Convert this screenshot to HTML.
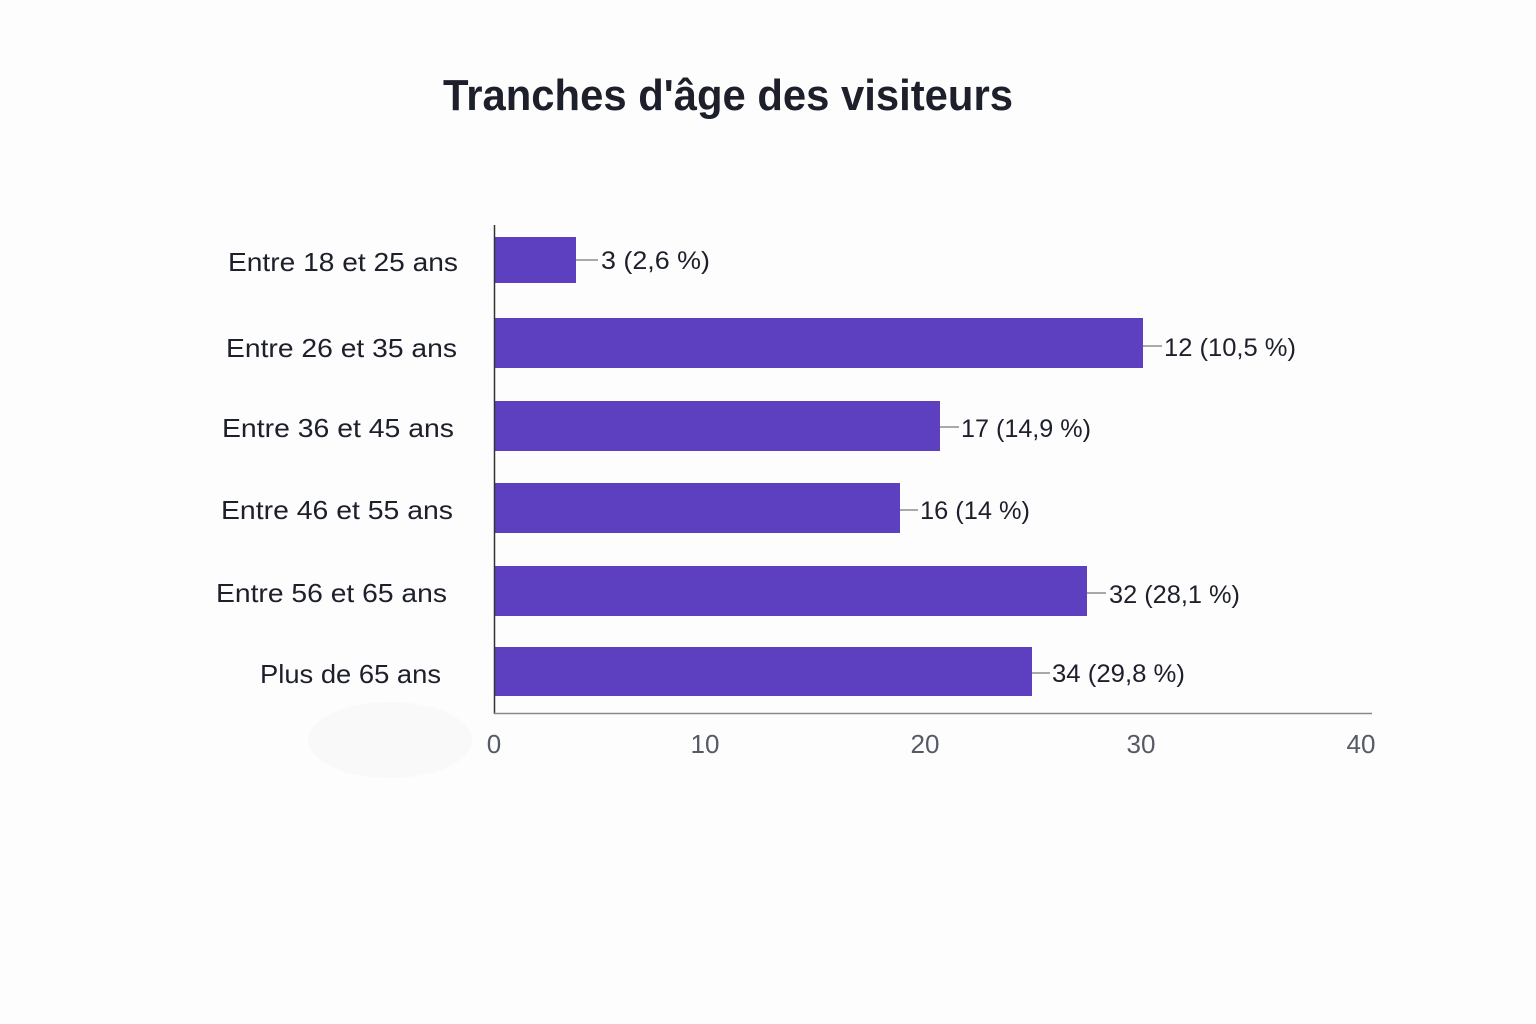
<!DOCTYPE html>
<html><head><meta charset="utf-8"><style>
body{margin:0;background:#fdfdfd;}
svg{display:block}
text{font-family:"Liberation Sans",sans-serif;}
</style></head><body>
<svg width="1536" height="1024" viewBox="0 0 1536 1024">
<rect width="1536" height="1024" fill="#fdfdfd"/>
<text x="443" y="110" textLength="570" lengthAdjust="spacingAndGlyphs" font-size="44" font-weight="bold" fill="#1d1f2b">Tranches d'âge des visiteurs</text>
<ellipse cx="390" cy="740" rx="82" ry="38" fill="#f9f9f9"/>
<g fill="#5d40c0">
<rect x="495" y="237" width="81" height="46"/>
<rect x="495" y="318" width="648" height="50"/>
<rect x="495" y="401" width="445" height="50"/>
<rect x="495" y="483" width="405" height="50"/>
<rect x="495" y="566" width="592" height="50"/>
<rect x="495" y="647" width="537" height="49"/>
</g>
<line x1="494.5" y1="225" x2="494.5" y2="714" stroke="#333" stroke-width="1.5"/>
<line x1="494" y1="713.5" x2="1372" y2="713.5" stroke="#888" stroke-width="1.5"/>
<g stroke="#777" stroke-width="1.2">
<line x1="576" y1="260" x2="598" y2="260"/>
<line x1="1143" y1="346" x2="1162" y2="346"/>
<line x1="940" y1="427" x2="959" y2="427"/>
<line x1="900" y1="510" x2="918" y2="510"/>
<line x1="1087" y1="593" x2="1106" y2="593"/>
<line x1="1032" y1="673" x2="1050" y2="673"/>
</g>
<g font-size="25" fill="#1d1f2b" lengthAdjust="spacingAndGlyphs">
<text x="601" y="269" textLength="109" lengthAdjust="spacingAndGlyphs">3 (2,6 %)</text>
<text x="1164" y="356" textLength="132" lengthAdjust="spacingAndGlyphs">12 (10,5 %)</text>
<text x="961" y="437" textLength="130" lengthAdjust="spacingAndGlyphs">17 (14,9 %)</text>
<text x="920" y="519" textLength="110" lengthAdjust="spacingAndGlyphs">16 (14 %)</text>
<text x="1109" y="603" textLength="131" lengthAdjust="spacingAndGlyphs">32 (28,1 %)</text>
<text x="1052" y="682" textLength="133" lengthAdjust="spacingAndGlyphs">34 (29,8 %)</text>
</g>
<g font-size="26" fill="#1d1f2b">
<text x="228" y="271" textLength="230" lengthAdjust="spacingAndGlyphs">Entre 18 et 25 ans</text>
<text x="226" y="357" textLength="231" lengthAdjust="spacingAndGlyphs">Entre 26 et 35 ans</text>
<text x="222" y="437" textLength="232" lengthAdjust="spacingAndGlyphs">Entre 36 et 45 ans</text>
<text x="221" y="519" textLength="232" lengthAdjust="spacingAndGlyphs">Entre 46 et 55 ans</text>
<text x="216" y="602" textLength="231" lengthAdjust="spacingAndGlyphs">Entre 56 et 65 ans</text>
<text x="260" y="683" textLength="181" lengthAdjust="spacingAndGlyphs">Plus de 65 ans</text>
</g>
<g font-size="26" fill="#555a66" text-anchor="middle">
<text x="494" y="753">0</text>
<text x="705" y="753">10</text>
<text x="925" y="753">20</text>
<text x="1141" y="753">30</text>
<text x="1361" y="753">40</text>
</g>
</svg>
</body></html>
